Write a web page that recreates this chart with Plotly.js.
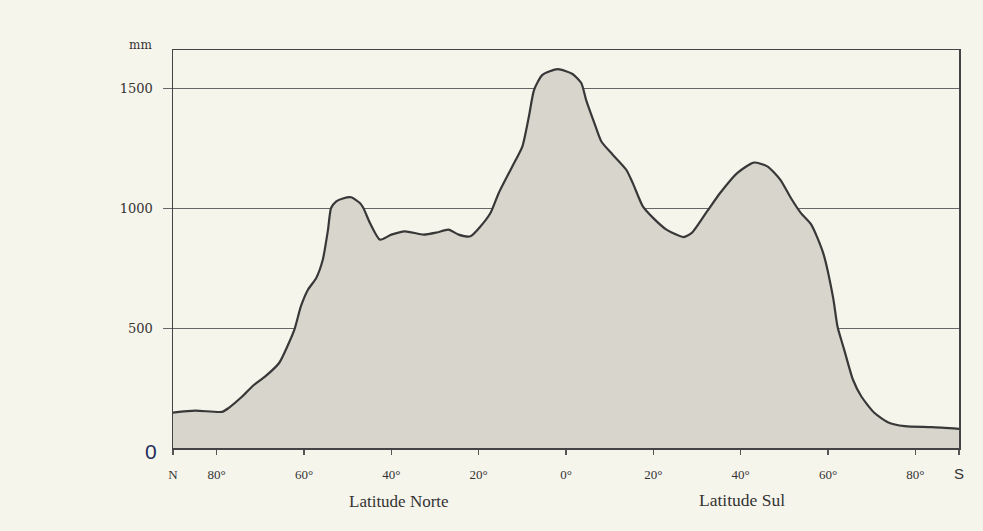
<!DOCTYPE html>
<html>
<head>
<meta charset="utf-8">
<script src="https://cdn.plot.ly/plotly-3.0.1.min.js"></script>
<style>html,body{margin:0;padding:0;background:#f6f5ec;}#chart{width:983px;height:531px;}</style>
</head>
<body>
<div id="chart"></div>
<script>
// Latitude: negative = North, positive = South
const latitude = [-90, -84.9, -78.7, -77.2, -74.1, -71.8, -68.8, -65.7, -63.8, -62.2, -60.7, -59.1, -57.2, -55.7, -54.5, -53.8, -52.6, -51.1, -49.2, -47.2, -46.4, -44.9, -42.6, -40.0, -36.9, -32.6, -29.6, -26.9, -24.6, -21.9, -19.6, -17.3, -15.4, -12.3, -10.0, -8.5, -7.3, -5.4, -1.9, 1.5, 3.5, 4.6, 6.5, 8.1, 10.7, 13.8, 15.3, 17.6, 20.0, 23.0, 26.9, 28.8, 32.3, 35.3, 39.2, 43.0, 46.1, 49.1, 51.5, 53.8, 56.2, 58.9, 61.2, 62.2, 63.7, 65.7, 67.6, 70.6, 73.7, 77.6, 83.7, 90];
const precipitation = [148, 156, 151, 168, 216, 258, 300, 355, 425, 494, 592, 661, 710, 786, 912, 1002, 1030, 1042, 1047, 1023, 1002, 940, 870, 891, 905, 891, 900, 912, 891, 884, 925, 981, 1065, 1176, 1259, 1384, 1496, 1558, 1582, 1562, 1524, 1454, 1357, 1280, 1225, 1162, 1106, 1009, 960, 912, 881, 898, 988, 1065, 1148, 1192, 1176, 1120, 1044, 981, 932, 814, 625, 505, 411, 286, 216, 147, 108, 91, 87, 80];
const xTickVals = [-90, -80, -60, -40, -20, 0, 20, 40, 60, 80, 90];
const xTickText = ['N', '80°', '60°', '40°', '20°', '0°', '20°', '40°', '60°', '80°', '<span style="font-family:Liberation Sans;font-size:15px">S</span>'];
const yTickVals = [500, 1000, 1500];
const yTickText = ['500', '1000', '1500'];

const serif = '"Liberation Serif", "DejaVu Serif", serif';

Plotly.newPlot('chart', [{
  x: latitude,
  y: precipitation,
  type: 'scatter',
  mode: 'lines',
  fill: 'tozeroy',
  fillcolor: '#d8d6cc',
  line: {color: '#383838', width: 2.2, shape: 'spline', smoothing: 0.6},
  hoverinfo: 'skip'
}], {
  width: 983, height: 531,
  margin: {l: 172.5, r: 24, t: 50, b: 82.5},
  paper_bgcolor: '#f6f5ec',
  plot_bgcolor: '#f6f5ec',
  showlegend: false,
  font: {family: serif, color: '#333', size: 12},
  xaxis: {
    range: [-90, 90],
    tickmode: 'array', tickvals: xTickVals, ticktext: xTickText,
    ticks: 'outside', ticklen: 5, tickcolor: '#555', tickwidth: 1.5,
    ticklabelstandoff: 9,
    showgrid: false, zeroline: false,
    showline: true, linecolor: '#444', linewidth: 1.5, mirror: true,
    tickfont: {family: serif, size: 13, color: '#333'}
  },
  yaxis: {
    range: [0, 1662],
    tickmode: 'array', tickvals: yTickVals, ticktext: yTickText,
    ticks: 'outside', ticklen: 9, tickcolor: '#666', tickwidth: 1,
    ticklabelstandoff: 7,
    showgrid: true, gridcolor: '#666', gridwidth: 1,
    zeroline: false,
    showline: true, linecolor: '#444', linewidth: 1.5, mirror: true,
    tickfont: {family: '"DejaVu Serif", serif', size: 13, color: '#333'}
  },
  annotations: [
    {text: 'mm', xref: 'paper', yref: 'paper', x: -0.0245, y: 1.012, xanchor: 'right', yanchor: 'middle', showarrow: false, font: {family: '"DejaVu Serif", serif', size: 12, color: '#333'}},
    {text: '0', xref: 'paper', yref: 'paper', x: -0.028, y: -0.009, xanchor: 'center', yanchor: 'middle', showarrow: false, font: {family: 'Liberation Sans, Arial, sans-serif', size: 21, color: '#1f2d5c'}},
    {text: 'Latitude Norte', xref: 'paper', yref: 'paper', x: 0.288, y: -0.135, xanchor: 'center', yanchor: 'middle', showarrow: false, font: {family: serif, size: 17, color: '#333'}},
    {text: 'Latitude Sul', xref: 'paper', yref: 'paper', x: 0.724, y: -0.13, xanchor: 'center', yanchor: 'middle', showarrow: false, font: {family: serif, size: 17.5, color: '#333'}}
  ]
}, {displayModeBar: false, staticPlot: true});
</script>
</body>
</html>
